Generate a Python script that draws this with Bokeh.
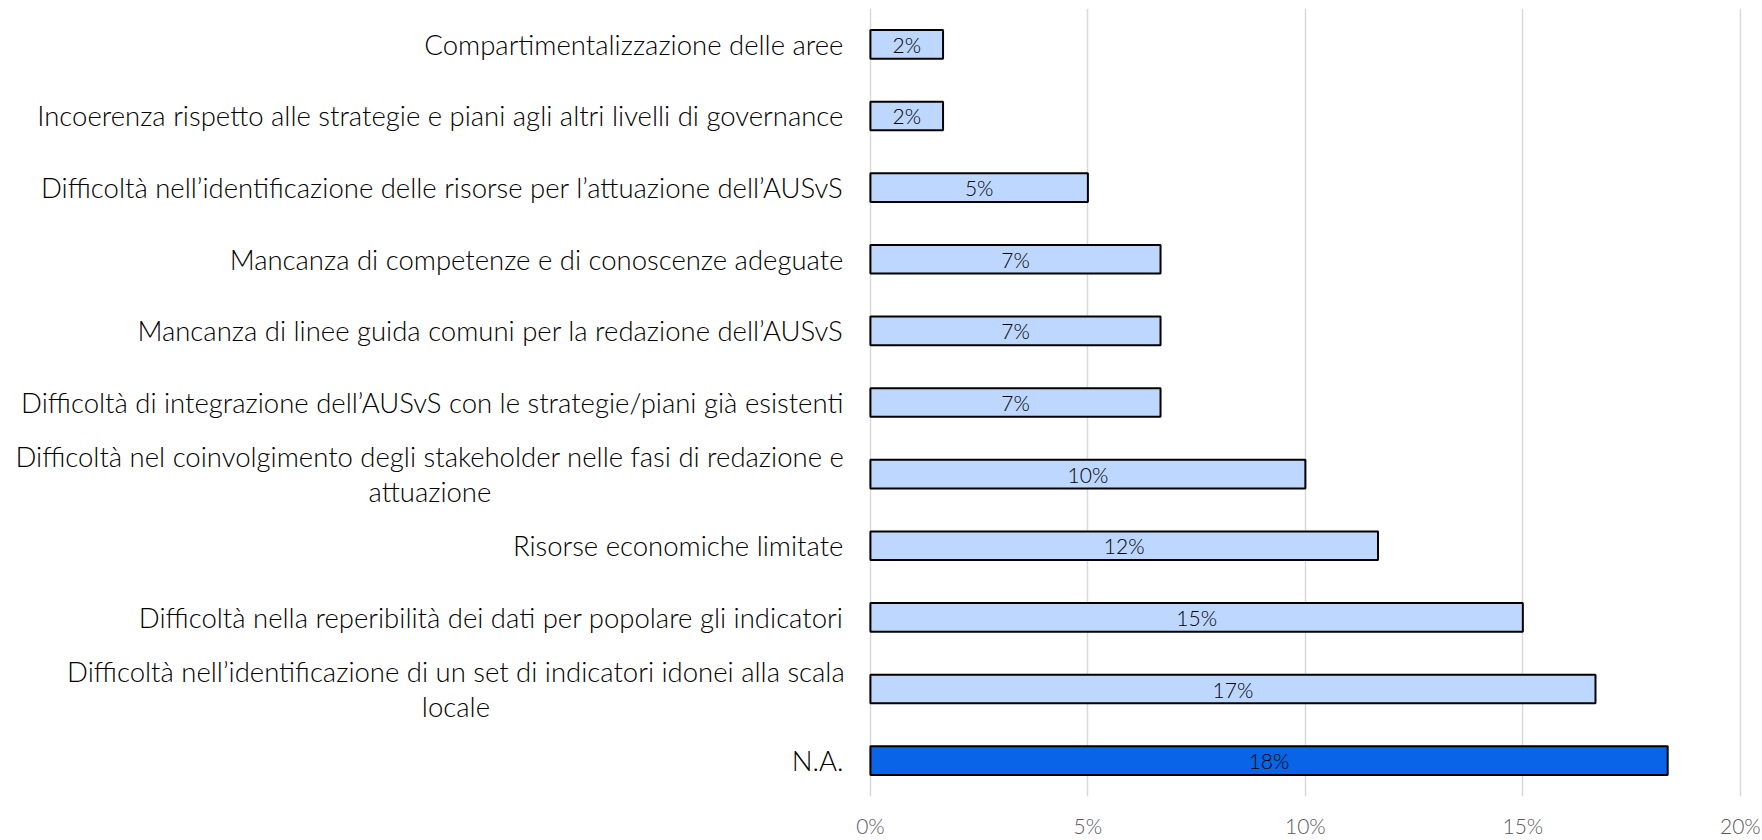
from bokeh.plotting import figure
from bokeh.models import (ColumnDataSource, FactorRange, Range1d, FixedTicker,
                          CustomJSTickFormatter)
from bokeh.embed import file_html
from bokeh.resources import INLINE
from bokeh.core.properties import value

categories = [
    "Compartimentalizzazione delle aree",
    "Incoerenza rispetto alle strategie e piani agli altri livelli di governance",
    "Difficoltà nell’identificazione delle risorse per l’attuazione dell’AUSvS",
    "Mancanza di competenze e di conoscenze adeguate",
    "Mancanza di linee guida comuni per la redazione dell’AUSvS",
    "Difficoltà di integrazione dell’AUSvS con le strategie/piani già esistenti",
    "Difficoltà nel coinvolgimento degli stakeholder nelle fasi di redazione e\nattuazione",
    "Risorse economiche limitate",
    "Difficoltà nella reperibilità dei dati per popolare gli indicatori",
    "Difficoltà nell’identificazione di un set di indicatori idonei alla scala\nlocale",
    "N.A.",
]
values = [1.67, 1.67, 5.0, 6.67, 6.67, 6.67, 10.0, 11.67, 15.0, 16.67, 18.33]
colors = ["#BDD7FE"] * 10 + ["#0A64E8"]
tick_values = [0, 5, 10, 15, 20]

FONT = "Lato Light"
CAT_SIZE = "27.5px"

W, H = 1762, 840
BORDER_RIGHT = 20
X_START, X_END = -20.0, 20.05          # negative side holds the category labels
PXU = (W - BORDER_RIGHT) / (X_END - X_START)   # pixels per percentage point
STANDOFF = 27                          # px between labels and the 0% line

labels = [f"{round(v)}%" for v in values]
src = ColumnDataSource(dict(cat=categories, val=values, mid=[v / 2 for v in values],
                            color=colors, label=labels))

factors = list(reversed(categories))
p = figure(width=W, height=H, output_backend="svg", toolbar_location=None,
           y_range=FactorRange(*factors), x_range=Range1d(X_START, X_END),
           y_axis_location=None,
           min_border_left=0, min_border_right=BORDER_RIGHT, min_border_top=8,
           min_border_bottom=40)

p.hbar(y="cat", right="val", left=0, height=0.4, source=src, fill_color="color",
       line_color="#000000", line_width=2)
p.text(x="mid", y="cat", text="label", source=src, text_align="center",
       text_baseline="middle", text_font=value(FONT), text_font_size="21px",
       text_color="#000000")

# category labels: single-line right-aligned, wrapped ones centred on their first line
single = [c for c in categories if "\n" not in c]
multi = [c for c in categories if "\n" in c]
first_line_widths = [827, 775]
p.text(x=[-STANDOFF / PXU] * len(single), y=single, text=single,
       text_align="right", text_baseline="middle", text_font=value(FONT),
       text_font_size=CAT_SIZE, text_color="#000000")
p.text(x=[-(STANDOFF + w / 2) / PXU for w in first_line_widths], y=multi, text=multi,
       text_align="center", text_baseline="middle", text_font=value(FONT),
       text_font_size=CAT_SIZE, text_color="#000000", text_line_height=1.06)

p.outline_line_color = None
p.ygrid.grid_line_color = None
p.xgrid.grid_line_color = "#D9D9D9"
p.xgrid.grid_line_width = 1.5
p.xaxis.ticker = FixedTicker(ticks=tick_values)
p.xaxis.formatter = CustomJSTickFormatter(code="return tick + '%';")
p.xaxis.axis_line_color = None
p.xaxis.major_tick_line_color = None
p.xaxis.minor_tick_line_color = None
p.xaxis.major_tick_out = 0
p.xaxis.major_tick_in = 0
p.xaxis.minor_tick_out = 0
p.xaxis.major_label_standoff = 16
p.xaxis.major_label_text_font = FONT
p.xaxis.major_label_text_font_size = "21px"
p.xaxis.major_label_text_color = "#595959"

open("out.html", "w").write(file_html(p, INLINE))
